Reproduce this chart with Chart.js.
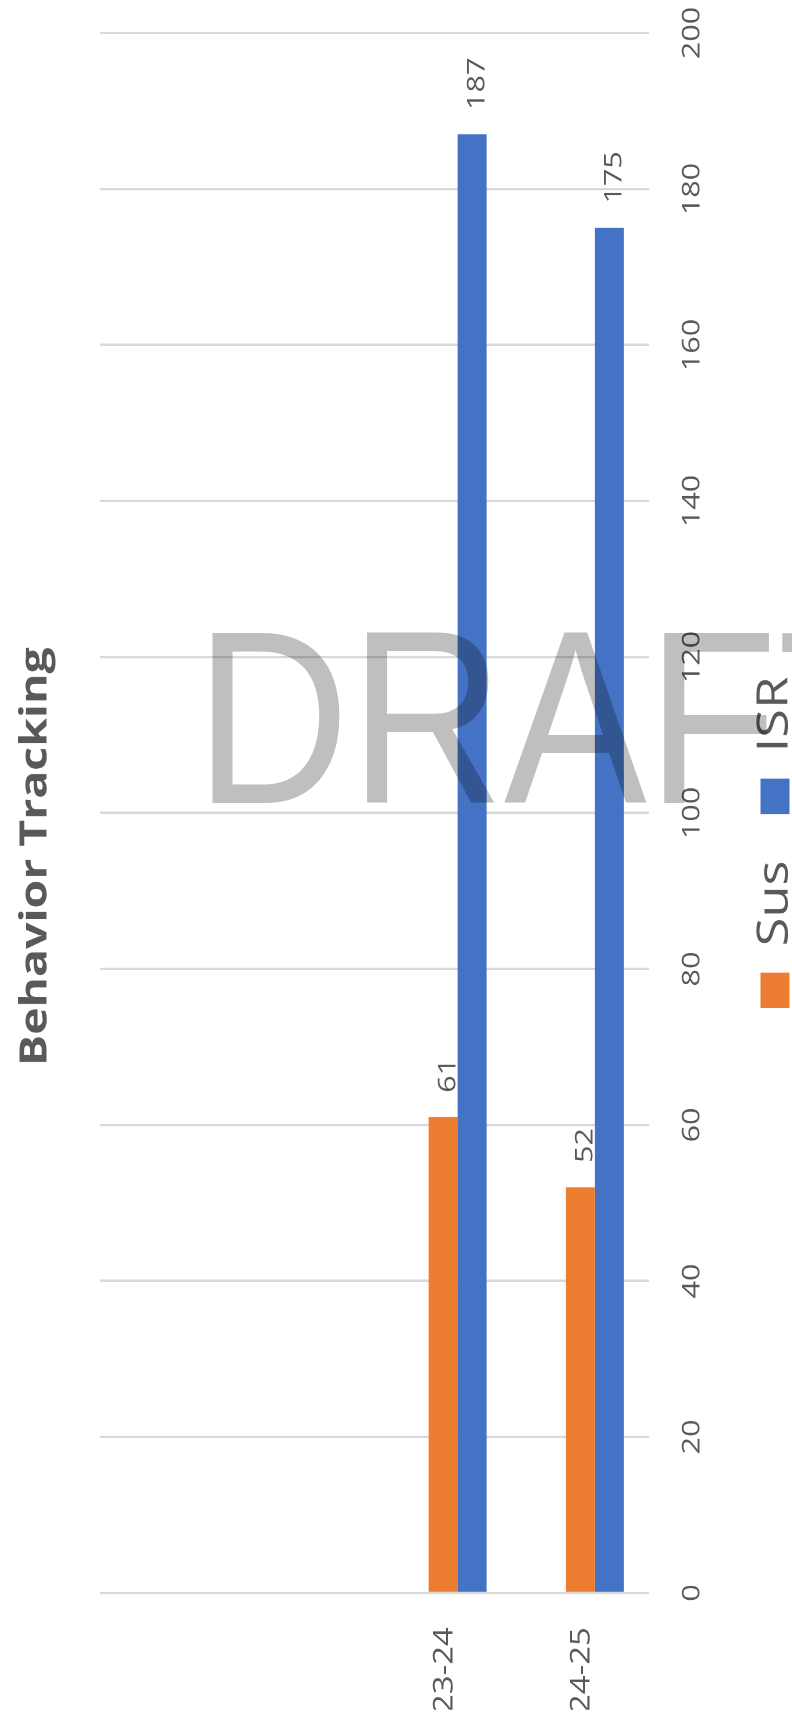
<!DOCTYPE html>
<html>
<head>
<meta charset="utf-8">
<script src="https://cdn.jsdelivr.net/npm/chart.js@4.4.1/dist/chart.umd.min.js"></script>
<style>
  html, body { margin: 0; padding: 0; width: 792px; height: 1728px; overflow: hidden; background: #ffffff; }
  body { position: relative; }
  #stage { position: absolute; left: 0; top: 0; width: 792px; height: 1416px; transform-origin: 0 0; transform: scaleY(1.2203); }
  #rot { position: absolute; left: 0; top: 0; width: 1416px; height: 796px; transform-origin: 0 0; transform: translate(0, 1416px) rotate(-90deg); }
  #wm { position: absolute; left: 195px; top: 622px; font-family: 'Liberation Sans', Arial, sans-serif; font-size: 214px; line-height: 214px;
        color: #bfbfbf; mix-blend-mode: multiply; transform-origin: 0 181px; transform: scaleY(1.15); white-space: nowrap; pointer-events: none; }
</style>
</head>
<body>
<div id="stage">
  <div id="rot"><canvas id="chart" width="1416" height="796"></canvas></div>
</div>
<div id="wm"></div>
<script>
// ---- data ----
const chartTitle = 'Behavior Tracking';
const categories = ['', '', '23-24', '24-25'];
const blankSeries = [null, null, null, null];
const susValues = [null, null, 61, 52];
const isrValues = [null, null, 187, 175];
const seriesNames = ['Sus', 'ISR'];
const valueTicks = [0, 20, 40, 60, 80, 100, 120, 140, 160, 180, 200];
const watermarkText = 'DRAFT';

// ---- styling / layout tweaks ----
const FONT = "'Open Sans', 'Noto Sans', sans-serif";
const TITLE_CENTER_X = 714;
const LEGEND_DX = 23.75;
const LEGEND_DY = 10.5;

const layoutTweaks = {
  id: 'layoutTweaks',
  afterLayout(chart) {
    const t = chart.titleBlock;
    if (t) { const dx = TITLE_CENTER_X - (t.left + t.right) / 2; t.left += dx; t.right += dx; }
    const l = chart.legend;
    if (l) { l.left += LEGEND_DX; l.right += LEGEND_DX; l.top += LEGEND_DY; l.bottom += LEGEND_DY; }
  }
};

const barValueLabels = {
  id: 'barValueLabels',
  afterDatasetsDraw(chart) {
    const ctx = chart.ctx;
    ctx.save();
    ctx.font = "25px " + FONT;
    ctx.fillStyle = '#595959';
    ctx.textAlign = 'left';
    ctx.textBaseline = 'middle';
    chart.data.datasets.forEach((ds, di) => {
      const meta = chart.getDatasetMeta(di);
      meta.data.forEach((el, i) => {
        const v = ds.data[i];
        if (v === null || v === undefined) return;
        ctx.fillText(String(v), el.x + 20, el.y + 5);
      });
    });
    ctx.restore();
  }
};

function makeChart() {
  document.getElementById('wm').textContent = watermarkText;
  new Chart(document.getElementById('chart'), {
    type: 'bar',
    data: {
      labels: categories,
      datasets: [
        { label: '', data: blankSeries, backgroundColor: 'rgba(0,0,0,0)', borderWidth: 0 },
        { label: seriesNames[0], data: susValues, backgroundColor: '#ED7D31', borderWidth: 0 },
        { label: seriesNames[1], data: isrValues, backgroundColor: '#4472C4', borderWidth: 0 }
      ]
    },
    options: {
      indexAxis: 'y',
      responsive: false,
      devicePixelRatio: 2,
      animation: false,
      datasets: { bar: { categoryPercentage: 0.634, barPercentage: 1.0 } },
      layout: { padding: { left: 15, right: 27, top: 0, bottom: 0 } },
      scales: {
        x: {
          min: 0, max: 200,
          afterBuildTicks: (axis) => { axis.ticks = valueTicks.map(v => ({ value: v })); },
          afterFit: (scale) => { scale.height = 56; scale.paddingRight = 0; scale.paddingLeft = 0; },
          grid: { color: '#d9d9d9', lineWidth: 2, drawTicks: false },
          border: { display: false },
          ticks: { color: '#595959', font: { family: FONT, size: 25 }, padding: 28.5, maxRotation: 0 }
        },
        y: {
          afterFit: (scale) => { scale.width = 95.6; },
          grid: { display: false, drawTicks: false },
          border: { display: false },
          ticks: { color: '#595959', font: { family: FONT, size: 27 }, padding: 28, autoSkip: false, labelOffset: 1.5 }
        }
      },
      plugins: {
        title: {
          display: true, text: chartTitle, color: '#595959',
          font: { family: FONT, size: 38, weight: 'bold' },
          padding: { top: 12.8, bottom: 41.6 }
        },
        legend: {
          position: 'bottom',
          labels: {
            color: '#595959', font: { family: FONT, size: 43 },
            boxWidth: 29, boxHeight: 29, padding: 38,
            filter: (item) => item.text !== ''
          }
        },
        tooltip: { enabled: false }
      }
    },
    plugins: [layoutTweaks, barValueLabels]
  });
}

const fontLoads = [
  document.fonts.load("bold 38px 'Open Sans'"),
  document.fonts.load("25px 'Open Sans'"),
  document.fonts.load("214px 'Liberation Sans'")
];
Promise.all(fontLoads).then(makeChart, makeChart);
</script>
</body>
</html>
